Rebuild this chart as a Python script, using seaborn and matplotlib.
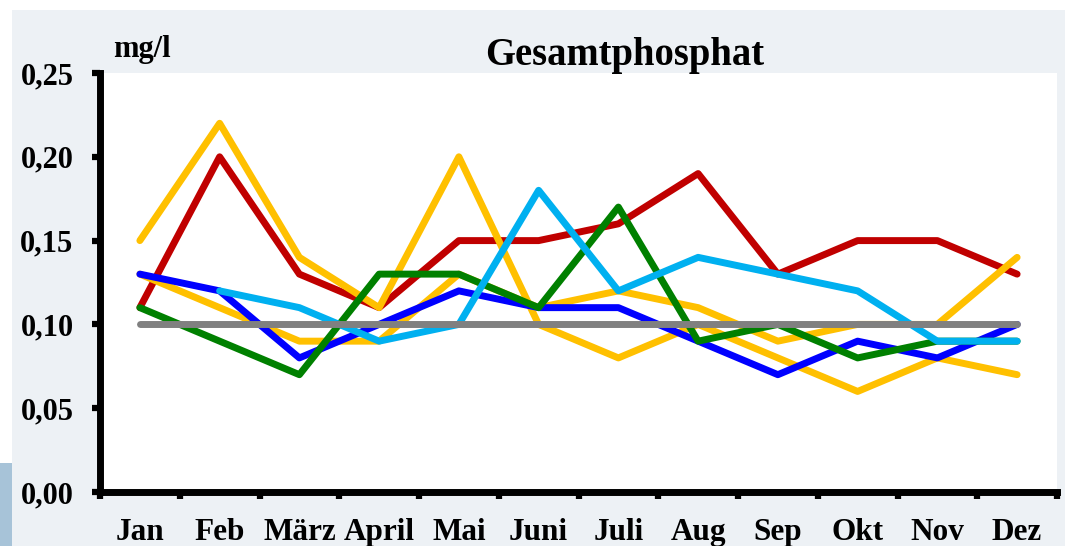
import numpy as np
import pandas as pd
import matplotlib
matplotlib.use("Agg")
import matplotlib.pyplot as plt
import seaborn as sns
from matplotlib.patches import Rectangle
from matplotlib.ticker import FuncFormatter, FixedLocator

# Monthly values (mg/l)
months = ['Jan', 'Feb', 'März', 'April', 'Mai', 'Juni', 'Juli', 'Aug', 'Sep', 'Okt', 'Nov', 'Dez']
red = [0.11, 0.20, 0.13, 0.11, 0.15, 0.15, 0.16, 0.19, 0.13, 0.15, 0.15, 0.13]
yellow_a = [0.15, 0.22, 0.14, 0.11, 0.20, 0.10, 0.08, 0.10, 0.08, 0.06, 0.08, 0.07]
yellow_b = [0.13, 0.11, 0.09, 0.09, 0.13, 0.11, 0.12, 0.11, 0.09, 0.10, 0.10, 0.14]
blue = [0.13, 0.12, 0.08, 0.10, 0.12, 0.11, 0.11, 0.09, 0.07, 0.09, 0.08, 0.10]
green = [0.11, 0.09, 0.07, 0.13, 0.13, 0.11, 0.17, 0.09, 0.10, 0.08, 0.09, 0.09]
cyan = [np.nan, 0.12, 0.11, 0.09, 0.10, 0.18, 0.12, 0.14, 0.13, 0.12, 0.09, 0.09]
limit = [0.10] * 12

y_ticks = [0.00, 0.05, 0.10, 0.15, 0.20, 0.25]

series = {'rot': red, 'gelb1': yellow_a, 'gelb2': yellow_b, 'blau': blue,
          'gruen': green, 'hellblau': cyan, 'grenzwert': limit}
colors = {'rot': '#C00000', 'gelb1': '#FFC000', 'gelb2': '#FFC000', 'blau': '#0000FF',
          'gruen': '#008000', 'hellblau': '#00B0F0', 'grenzwert': '#808080'}

# long format table for seaborn
rows = []
for name, vals in series.items():
    for m, v in zip(months, vals):
        rows.append({'Monat': m, 'Wert': v, 'Reihe': name})
df = pd.DataFrame(rows).dropna()

sns.set_style("white")
plt.rcParams['font.family'] = ['Liberation Serif', 'DejaVu Serif']
plt.rcParams['font.weight'] = 'bold'
plt.rcParams['text.color'] = 'black'
plt.rcParams['xtick.color'] = 'black'
plt.rcParams['ytick.color'] = 'black'

fig = plt.figure(figsize=(10.65, 5.46), dpi=100, facecolor='white')
# light background panel and the blue strip at the lower left
fig.patches.append(Rectangle((12 / 1065, 0), 1 - 12 / 1065, 536 / 546, transform=fig.transFigure,
                             facecolor='#EDF1F5', edgecolor='none', zorder=-10))
fig.patches.append(Rectangle((0, 0), 12 / 1065, 83 / 546, transform=fig.transFigure,
                             facecolor='#A7C3D8', edgecolor='none', zorder=-10))

ax = fig.add_axes([100 / 1065, 1 - 492 / 546, 957 / 1065, (492 - 73) / 546])
ax.set_facecolor('white')

sns.lineplot(data=df, x='Monat', y='Wert', hue='Reihe', hue_order=list(series.keys()),
             palette=colors, linewidth=5, sort=False, legend=False, ax=ax,
             solid_capstyle='round', solid_joinstyle='round')

ax.set_xlim(-0.5, 11.5)
ax.set_ylim(0, 0.25)
ax.set_xlabel('')
ax.set_ylabel('')

ax.set_xticks(range(12))
ax.set_xticklabels(months, fontsize=22.5, fontweight='bold', color='black')
ax.xaxis.set_minor_locator(FixedLocator(np.arange(-0.5, 12, 1)))
ax.tick_params(axis='x', which='major', bottom=True, length=0, pad=19)
ax.tick_params(axis='x', which='minor', bottom=True, length=5, width=4.5, direction='out', color='black')

ax.set_yticks(y_ticks)
ax.yaxis.set_major_formatter(FuncFormatter(lambda v, _: f"{v:.2f}".replace('.', ',')))
ax.tick_params(axis='y', which='major', left=True, length=6, width=4.5, direction='out', color='black',
               labelsize=22, labelcolor='black', pad=13)
for lab in ax.get_yticklabels():
    lab.set_fontweight('bold')

for side in ['top', 'right']:
    ax.spines[side].set_visible(False)
for side in ['left', 'bottom']:
    ax.spines[side].set_visible(True)
    ax.spines[side].set_linewidth(5)
    ax.spines[side].set_color('black')

fig.text(625 / 1065, 1 - 65 / 546, 'Gesamtphosphat', ha='center', va='baseline',
         fontsize=27.8, fontweight='bold', color='black')
fig.text(113 / 1065, 1 - 57 / 546, 'mg/l', ha='left', va='baseline',
         fontsize=22, fontweight='bold', color='black')

fig.savefig('out.png', dpi=100, facecolor=fig.get_facecolor())
